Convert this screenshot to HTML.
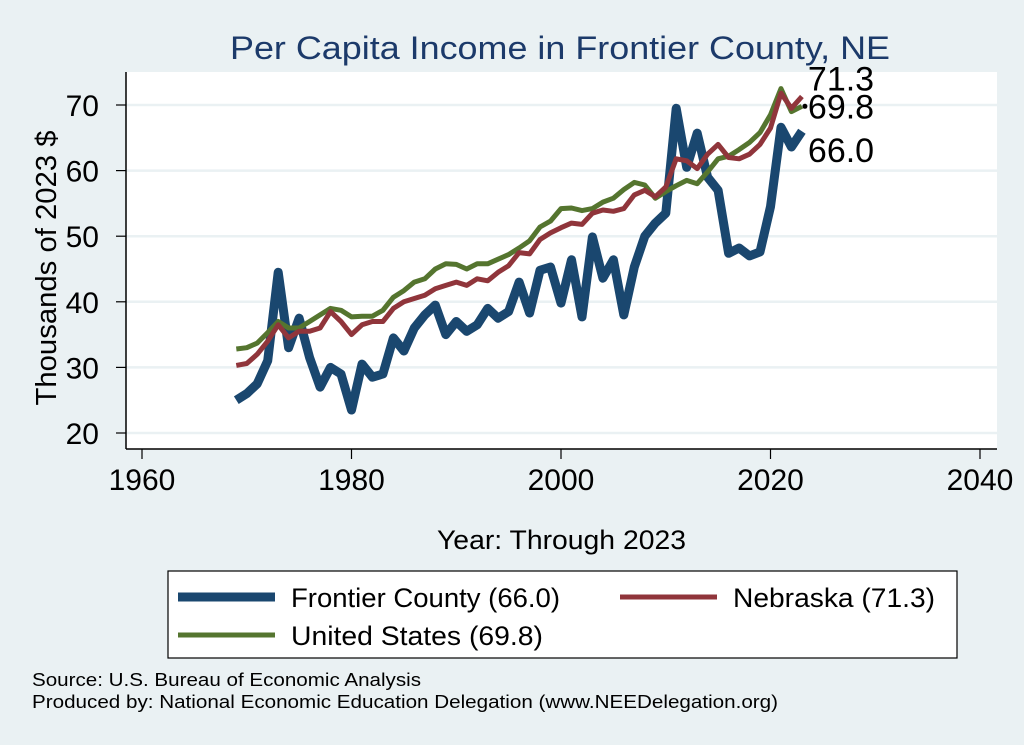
<!DOCTYPE html>
<html><head><meta charset="utf-8"><style>
body{margin:0;background:#eaf1f3;}
svg{display:block;font-family:"Liberation Sans",Arial,sans-serif;}
</style></head><body>
<svg id="chart" width="1024" height="745" viewBox="0 0 1024 745">
<rect x="0" y="0" width="1024" height="745" fill="#eaf1f3"/>
<text x="230" y="59" font-size="32" textLength="660" lengthAdjust="spacingAndGlyphs" fill="#1c3a6a">Per Capita Income in Frontier County, NE</text>
<rect x="126" y="72" width="871" height="377" fill="#ffffff"/>
<g id="grid"></g>
<g id="series"></g>
<line x1="126" y1="72" x2="126" y2="449" stroke="#000" stroke-width="1.5"/>
<line x1="126" y1="449" x2="997" y2="449" stroke="#000" stroke-width="1.5"/>
<g id="axes"></g>
<text transform="translate(56,268) rotate(-90)" text-anchor="middle" font-size="29" textLength="275" lengthAdjust="spacingAndGlyphs" fill="#000">Thousands of 2023 $</text>
<text x="437" y="549" font-size="27" textLength="249" lengthAdjust="spacingAndGlyphs" fill="#000">Year: Through 2023</text>
<g>
<rect x="168" y="571" width="789" height="87" fill="#fff" stroke="#000" stroke-width="1.2"/>
<line x1="178" y1="597" x2="275" y2="597" stroke="#1a476f" stroke-width="9"/>
<text x="291" y="607" font-size="27" textLength="269" lengthAdjust="spacingAndGlyphs">Frontier County (66.0)</text>
<line x1="620" y1="597" x2="717" y2="597" stroke="#90353b" stroke-width="5"/>
<text x="733" y="607" font-size="27" textLength="202" lengthAdjust="spacingAndGlyphs">Nebraska (71.3)</text>
<line x1="178" y1="635" x2="275" y2="635" stroke="#55752f" stroke-width="5"/>
<text x="291" y="645" font-size="27" textLength="252" lengthAdjust="spacingAndGlyphs">United States (69.8)</text>
</g>
<text x="32" y="686" font-size="18" textLength="389" lengthAdjust="spacingAndGlyphs">Source: U.S. Bureau of Economic Analysis</text>
<text x="32" y="708" font-size="18" textLength="746" lengthAdjust="spacingAndGlyphs">Produced by: National Economic Education Delegation (www.NEEDelegation.org)</text>
</svg>
<script>
const years = []; for (let y = 1969; y <= 2023; y++) years.push(y);
const frontier = [25,26,27.5,31,44.5,33,37.5,31.5,27,30,29,23.5,30.5,28.5,29,34.5,32.5,36,38,39.5,35,37,35.5,36.5,39,37.5,38.5,43,38.3,44.8,45.3,39.8,46.4,37.7,49.9,43.6,46.4,38,45.3,50,52,53.5,69.5,60.5,65.7,59,57,47.4,48.2,47,47.6,54.5,66.6,63.6,66.0];
const nebraska = [30.3,30.6,32,34,36.5,34.5,35.5,35.5,36,38.5,37,35,36.5,37,37,39,40,40.5,41,42,42.5,43,42.5,43.5,43.2,44.5,45.5,47.5,47.3,49.5,50.5,51.3,52,51.8,53.5,54,53.8,54.2,56.3,57,56,57.5,61.8,61.5,60.3,62.5,64,62,61.8,62.5,64,66.5,71.8,69.5,71.3];
const unitedStates = [32.8,33,33.7,35.3,37,36,36,37,38,39,38.7,37.7,37.8,37.8,38.7,40.7,41.7,43,43.5,45,45.8,45.7,45,45.8,45.8,46.5,47.2,48.2,49.3,51.4,52.3,54.2,54.3,53.9,54.2,55.2,55.8,57.1,58.2,57.8,55.8,56.8,57.7,58.5,58,59.8,61.8,62.2,63.2,64.3,65.8,68.5,72.5,69,69.8];
const xTicks = [1960,1980,2000,2020,2040];
const yTicks = [20,30,40,50,60,70];

const NS = "http://www.w3.org/2000/svg";
const xs = v => 142 + (v - 1960) * (838 / 80);
const ys = v => 433 - (v - 20) * (328 / 50);
function mk(tag, attrs, parent) { const e = document.createElementNS(NS, tag); for (const k in attrs) e.setAttribute(k, attrs[k]); parent.appendChild(e); return e; }
const grid = document.getElementById('grid'), axes = document.getElementById('axes'), series = document.getElementById('series');
yTicks.forEach(t => {
  const g = mk('line', {x1:126, x2:997, y1:ys(t), y2:ys(t), stroke:'#eaf1f3', 'stroke-width':2.5}, grid);
  
  
  const tk = mk('line', {x1:116, x2:126, y1:ys(t), y2:ys(t), stroke:'#000', 'stroke-width':1.2}, axes);
  
  
  const lb = mk('text', {x:99, y:ys(t) + 11, 'text-anchor':'end', 'font-size':30}, axes);
  lb.textContent = t;
  
  
});
xTicks.forEach(t => {
  const tk = mk('line', {x1:xs(t), x2:xs(t), y1:449, y2:459, stroke:'#000', 'stroke-width':1.2}, axes);
  
  
  const lb = mk('text', {x:xs(t), y:490, 'text-anchor':'middle', 'font-size':30}, axes);
  lb.textContent = t;
  
  
});
function line(vals, color, w, name) {
  const d = vals.map((v, i) => (i ? 'L' : 'M') + xs(years[i]).toFixed(1) + ',' + ys(v).toFixed(1)).join(' ');
  const p = mk('path', {d:d, fill:'none', stroke:color, 'stroke-width':w, 'stroke-linejoin':'round'}, series);
  
  
}
line(frontier, '#1a476f', 9, 'line-frontier-county');
line(unitedStates, '#55752f', 5, 'line-united-states');
line(nebraska, '#90353b', 5, 'line-nebraska');
const last = years.length - 1, lx = xs(years[last]);
const endLabels = [[nebraska[last], -6, 'end-label-nebraska'], [unitedStates[last], 12, 'end-label-us'], [frontier[last], 31, 'end-label-frontier']];
endLabels.forEach(([v, dy, nm]) => {
  const t = mk('text', {x:lx + 6, y:ys(v) + dy, 'font-size':34}, series);
  t.textContent = v.toFixed(1);
  
  
});
const dot = mk('circle', {cx:lx + 3, cy:ys(unitedStates[last]), r:2.5, fill:'#000'}, series);


</script>
</body></html>
